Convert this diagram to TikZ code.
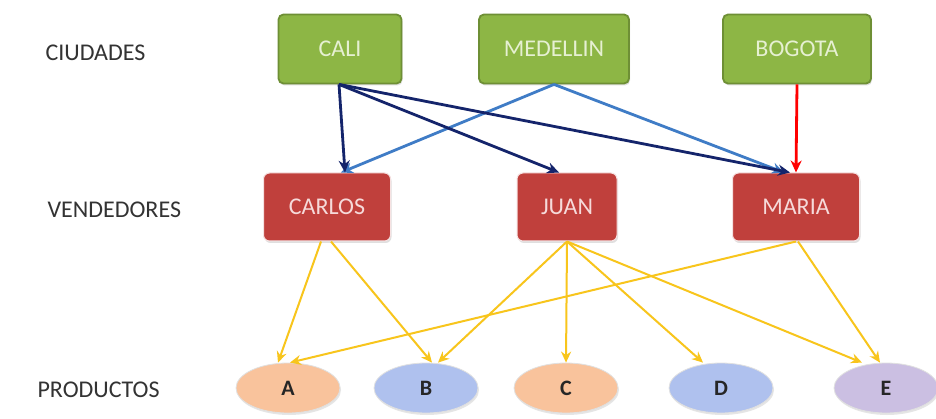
\documentclass[tikz,border=0pt]{standalone}
\usepackage{fontspec}
\setmainfont{Carlito}
\usetikzlibrary{arrows.meta,shapes.geometric,shadows}
\definecolor{cityfill}{HTML}{8DB645}
\definecolor{cityedge}{HTML}{6E8F35}
\definecolor{cityink}{HTML}{E6F0D2}
\definecolor{sellfill}{HTML}{C0403C}
\definecolor{sellink}{HTML}{F6DADA}
\definecolor{peach}{HTML}{F9C39C}
\definecolor{skyblue}{HTML}{AFC1EE}
\definecolor{lilac}{HTML}{CBBFE2}
\definecolor{navy}{HTML}{14246B}
\definecolor{midblue}{HTML}{3F7CC6}
\definecolor{gold}{HTML}{F8C51C}
\tikzset{
  x=1pt, y=-1pt,
  big/.style={font=\fontsize{24}{28}\selectfont},
  lbl/.style={big, text=black!80, anchor=west},
  city/.style={big, draw=cityedge, line width=1.8pt, fill=cityfill, rounded corners=5pt,
    minimum width=123pt, minimum height=69pt, text=cityink,
    drop shadow={opacity=0.25, shadow xshift=1pt, shadow yshift=-2pt}},
  seller/.style={big, draw=white!85!sellfill, line width=1pt, fill=sellfill, rounded corners=6pt,
    minimum height=68pt, text=sellink,
    drop shadow={opacity=0.25, shadow xshift=1pt, shadow yshift=-2pt}},
  prod/.style={ellipse, draw=black!12, line width=0.8pt, minimum width=104pt, minimum height=50pt,
    inner sep=0pt, text=black!85, font=\fontsize{22}{26}\selectfont\bfseries,
    drop shadow={opacity=0.2, shadow xshift=1pt, shadow yshift=-2pt}},
  cityarrow/.style={line width=2.8pt, -{Stealth[length=12pt,width=11pt]}},
  prodarrow/.style={gold, line width=2pt, -{Stealth[length=11pt,width=10pt]}},
}
\begin{document}
\begin{tikzpicture}
\useasboundingbox (0,0) rectangle (936,419);
\fill[white] (0,0) rectangle (936,419);

% row labels
\node[lbl] (lc) at (42,53) {CIUDADES};
\node[lbl] (lv) at (44,210) {VENDEDORES};
\node[lbl] (lp) at (34,390) {PRODUCTOS};

% cities
\node[city] (cali) at (340,49) {CALI};
\node[city, minimum width=150pt] (med) at (554,49) {MEDELLIN};
\node[city, minimum width=148pt] (bog) at (797,49) {BOGOTA};

% sellers
\node[seller, minimum width=127pt] (carlos) at (327,207) {CARLOS};
\node[seller, minimum width=100pt] (juan) at (567,207) {JUAN};
\node[seller, minimum width=127pt] (maria) at (796,207) {MARIA};

% products
\node[prod, fill=peach] (pa) at (288,388) {A};
\node[prod, fill=skyblue] (pb) at (426,388) {B};
\node[prod, fill=peach] (pc) at (566,388) {C};
\node[prod, fill=skyblue] (pd) at (721,388) {D};
\node[prod, fill=lilac] (pe) at (886,388) {E};

% city -> seller connectors
\coordinate (caliout) at ([xshift=-1pt]cali.south);
\draw[cityarrow, midblue] (med.south) -- ([xshift=14pt]carlos.north);
\draw[cityarrow, midblue] (med.south) -- ([xshift=-12pt]maria.north);
\draw[cityarrow, navy] (caliout) -- ([xshift=18pt]carlos.north);
\draw[cityarrow, navy] (caliout) -- ([xshift=-8pt]juan.north);
\draw[cityarrow, navy] (caliout) -- ([xshift=-6pt]maria.north);
\draw[cityarrow, red] (bog.south) -- (maria.north);

% seller -> product connectors
\draw[prodarrow] ([xshift=-6pt]carlos.south) -- ([xshift=-10pt]pa.north);
\draw[prodarrow] ([xshift=4pt]carlos.south) -- ([xshift=6pt]pb.north);
\draw[prodarrow] (maria.south) -- ([xshift=2pt]pa.north);
\draw[prodarrow] (juan.south) -- ([xshift=12pt]pb.north);
\draw[prodarrow] (juan.south) -- (pc.north);
\draw[prodarrow] (juan.south) -- ([xshift=-18pt]pd.north);
\draw[prodarrow] (juan.south) -- ([xshift=-24pt]pe.north);
\draw[prodarrow] ([xshift=2pt]maria.south) -- ([xshift=-6pt]pe.north);
\end{tikzpicture}
\end{document}
